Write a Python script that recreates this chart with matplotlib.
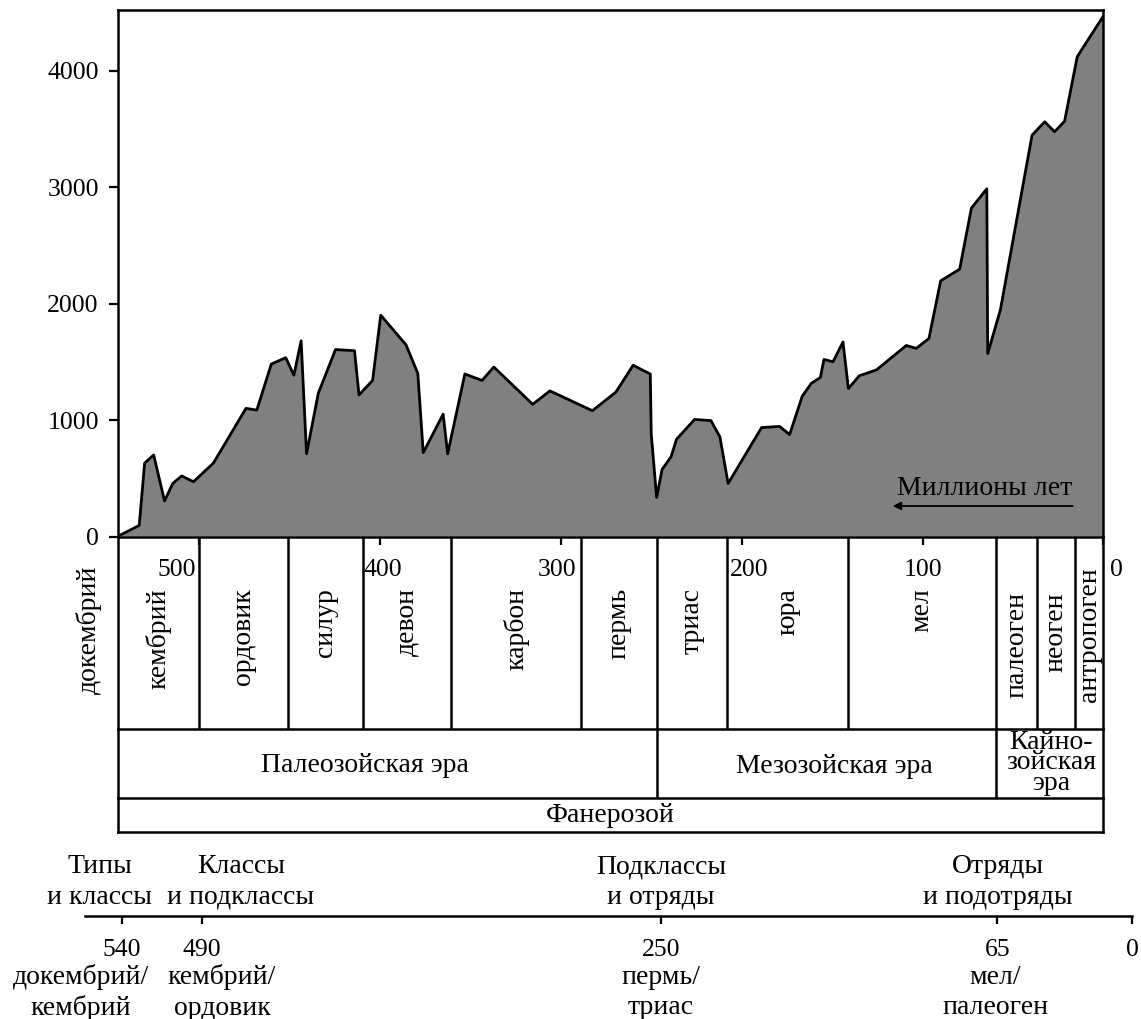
import numpy as np
import matplotlib
matplotlib.use("Agg")
import matplotlib.pyplot as plt

plt.rcParams['font.family'] = ['Liberation Serif', 'DejaVu Serif']
plt.rcParams['font.size'] = 18.5

# число родов морских животных во времени (млн лет назад)
ages = [545, 533, 530, 525, 519, 514.5, 509.5, 503, 492, 474, 468, 460, 452, 447.5,
        443.5, 440.5, 434, 424.5, 414, 411.5, 404, 399.5, 385.5, 379, 376, 365, 362.5,
        353, 343.5, 337, 315.5, 306, 282.5, 269.5, 260, 250.5, 250, 247, 244, 239, 236,
        226, 217, 212, 207.5, 189, 179, 173.5, 166.5, 161.5, 158, 156.5, 154.5, 149.5,
        144, 141, 135, 125.5, 109, 103.5, 96.5, 90, 79.5, 73, 64.5, 64, 57, 39.5, 32.5,
        27, 21.5, 14.5, 0]
genera = [0, 95, 630, 700, 305, 455, 520, 470, 630, 1100, 1085, 1480, 1535, 1385,
          1680, 710, 1230, 1605, 1595, 1215, 1340, 1900, 1645, 1400, 720, 1050, 710,
          1395, 1340, 1455, 1135, 1250, 1080, 1240, 1470, 1395, 885, 335, 575, 685, 835,
          1005, 995, 855, 455, 935, 945, 875, 1205, 1315, 1350, 1365, 1520, 1500,
          1670, 1270, 1380, 1430, 1640, 1615, 1700, 2195, 2295, 2820, 2985, 1570, 1945,
          3445, 3560, 3475, 3565, 4120, 4470]

y_ticks = [0, 1000, 2000, 3000, 4000]
x_ticks = [500, 400, 300, 200, 100, 0]

periods = ['кембрий', 'ордовик', 'силур', 'девон', 'карбон', 'пермь',
           'триас', 'юра', 'мел', 'палеоген', 'неоген', 'антропоген']
period_edges = [545, 500, 451, 409.5, 360.5, 289, 247, 208, 141, 59.5, 36.5, 16, 0]
eras = ['Палеозойская эра', 'Мезозойская эра', 'Кайно-\nзойская\nэра']
era_edges = [545, 247, 59.5, 0]

levels = ['Типы\nи классы', 'Классы\nи подклассы', 'Подклассы\nи отряды', 'Отряды\nи подотряды']
level_ages = [540, 490, 250, 65]
bounds = [540, 490, 250, 65, 0]
bound_names = ['докембрий/\nкембрий', 'кембрий/\nордовик', 'пермь/\nтриас', 'мел/\nпалеоген', '']

LW = 1.8
FS_NUM = 18.5   # цифры
FS_TXT = 20     # слова
fig = plt.figure(figsize=(11.41, 10.19), dpi=100)

# основной график
ax = fig.add_axes([0.10298, 0.47350, 0.86415, 0.51669])
ax.fill_between(ages, genera, 0, facecolor='#808080', edgecolor='none')
ax.plot(ages, genera, color='black', lw=2.0)
ax.set_xlim(545, 0)
ax.set_ylim(0, 4520)
ax.set_yticks(y_ticks)
ax.set_xticks(x_ticks)
ax.set_xticklabels([])
ax.tick_params(axis='y', direction='out', length=6.5, width=1.6, pad=7, labelsize=FS_NUM)
ax.tick_params(axis='x', direction='out', length=6, width=1.6)
for s in ax.spines.values():
    s.set_linewidth(LW)

ax.text(65.5, 416, 'Миллионы лет', ha='center', va='center', fontsize=FS_TXT)
ax.annotate('', xy=(116.5, 262), xytext=(17, 262),
            arrowprops=dict(arrowstyle='-|>', lw=1.3, color='black',
                            mutation_scale=12, shrinkA=0, shrinkB=0))

# полоса периодов
ap = fig.add_axes([0.10298, 0.28459, 0.86415, 0.18891], sharex=ax)
ap.patch.set_visible(False)
ap.set_ylim(0, 1)
ap.spines['top'].set_visible(False)
for s in ['left', 'right', 'bottom']:
    ap.spines[s].set_linewidth(LW)
ap.tick_params(left=False, bottom=False, labelleft=False, labelbottom=False)
ap.vlines(period_edges[1:-1], 0, 1, color='black', lw=LW)

# подписи делений шкалы времени
tick_align = {500: ('right', -2), 400: ('left', -11.5), 300: ('right', 11.5),
              200: ('left', -8.5), 100: ('center', 0), 0: ('left', 4.7)}
for t in x_ticks:
    ha, dx = tick_align[t]
    ap.annotate(str(t), xy=(t, 0.826), xytext=(dx, 0), textcoords='offset points',
                ha=ha, va='center', fontsize=FS_NUM)

tops = {'палеоген': 0.712, 'неоген': 0.712, 'антропоген': 0.84}
for name, a0, a1 in zip(periods, period_edges[:-1], period_edges[1:]):
    ap.text((a0 + a1) / 2, tops.get(name, 0.7325), name, rotation=90,
            ha='center', va='top', fontsize=FS_TXT)
ap.text(561, 0.514, 'докембрий', rotation=90, ha='center', va='center', fontsize=FS_TXT)

# полоса эр
ae = fig.add_axes([0.10298, 0.21658, 0.86415, 0.06801], sharex=ax)
ae.patch.set_visible(False)
ae.set_ylim(0, 1)
ae.spines['top'].set_visible(False)
for s in ['left', 'right', 'bottom']:
    ae.spines[s].set_linewidth(LW)
ae.tick_params(left=False, bottom=False, labelleft=False, labelbottom=False)
ae.vlines(era_edges[1:-1], 0, 1, color='black', lw=LW)
era_x = [408.5, 148.5, 29]
era_y = [0.48, 0.456, 0.51]
for name, x, y in zip(eras, era_x, era_y):
    ae.text(x, y, name, ha='center', va='center', fontsize=FS_TXT,
            linespacing=0.78, multialignment='center')

# фанерозой
af = fig.add_axes([0.10298, 0.18381, 0.86415, 0.03277], sharex=ax)
af.patch.set_visible(False)
af.set_ylim(0, 1)
af.spines['top'].set_visible(False)
for s in ['left', 'right', 'bottom']:
    af.spines[s].set_linewidth(LW)
af.tick_params(left=False, bottom=False, labelleft=False, labelbottom=False)
af.text(272.5, 0.5, 'Фанерозой', ha='center', va='center', fontsize=FS_TXT)

# нижняя схематическая шкала
k_age = [0, 65, 250, 490, 540, 600]
k_u = [0, 134.5, 470.9, 930, 1010, 1106]


def fwd(a):
    return np.interp(a, k_age, k_u)


def inv(u):
    return np.interp(u, k_u, k_age)


ab = fig.add_axes([85 / 1141, 0.10108, 1047 / 1141, 0.06477])
ab.patch.set_visible(False)
ab.set_xscale('function', functions=(fwd, inv))
ab.set_xlim(563, 0)
ab.set_ylim(0, 1)
for s in ['left', 'right', 'top']:
    ab.spines[s].set_visible(False)
ab.spines['bottom'].set_linewidth(LW)
ab.set_xticks(bounds)
ab.set_xticklabels([])
ab.minorticks_off()
ab.tick_params(axis='x', direction='out', length=6, width=1.6)
ab.tick_params(left=False, labelleft=False)

trans = ab.get_xaxis_transform()
level_dx = [-16, 28, 0, 0]
for name, a, dx in zip(levels, level_ages, level_dx):
    ab.annotate(name, xy=(a, 0), xycoords=trans, xytext=(dx, 24.5),
                textcoords='offset points', ha='center', va='center',
                fontsize=FS_TXT, linespacing=1.28, multialignment='center')

name_dx = [-29.7, 14.6, 0, -1.5, 0]
for b, name, dx in zip(bounds, bound_names, name_dx):
    ab.annotate(str(b), xy=(b, 0), xycoords=trans, xytext=(0, -24.5),
                textcoords='offset points', ha='center', va='center', fontsize=FS_NUM)
    if name:
        ab.annotate(name, xy=(b, 0), xycoords=trans, xytext=(dx, -55),
                    textcoords='offset points', ha='center', va='center',
                    fontsize=FS_TXT, linespacing=1.28, multialignment='center')

fig.savefig('out.png', dpi=100)
